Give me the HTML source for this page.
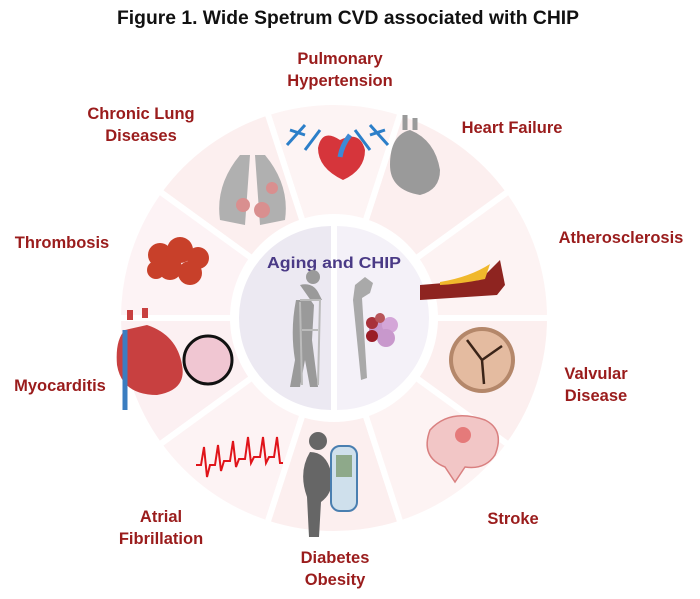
<!DOCTYPE html>
<html><head><meta charset="utf-8"><style>
html,body{margin:0;padding:0;background:#fff;width:700px;height:599px;overflow:hidden}
text{font-family:"Liberation Sans",sans-serif;font-weight:bold}
.l{fill:#9a1c1c;font-size:16.5px}
</style></head><body>
<svg width="700" height="599" viewBox="0 0 700 599" xmlns="http://www.w3.org/2000/svg">
<text x="348" y="24" text-anchor="middle" font-size="19" fill="#111" textLength="462" lengthAdjust="spacingAndGlyphs">Figure 1. Wide Spetrum CVD associated with CHIP</text>
<g id="ring"></g>
<circle cx="334" cy="318" r="104" fill="#fff"/>
<path d="M331,226 A92,92 0 0 0 331,410 Z" fill="#ece9f2"/>
<path d="M337,226 A92,92 0 0 1 337,410 Z" fill="#f4f1f8"/>
<text x="334" y="268" text-anchor="middle" font-size="16" fill="#4a3a86" textLength="134" lengthAdjust="spacingAndGlyphs">Aging and CHIP</text>
<g fill="#9a9a9a">
<circle cx="313" cy="277" r="7"/>
<path d="M300,285 Q312,282 318,292 L322,300 L296,300 Q290,330 295,360 L290,387 L300,387 L305,360 L310,387 L318,387 L312,340 L314,305 Z"/>
</g>
<g stroke="#bbb" stroke-width="2" fill="none"><path d="M300,300 L320,300 L318,385 M300,302 L302,385 M302,330 L318,330"/></g>
<path d="M355,285 l10,-8 8,6 -3,10 -8,5 5,80 -6,2 -8,-80 z" fill="#a9a9a9"/>
<g><circle cx="378" cy="330" r="9" fill="#c898cc"/><circle cx="390" cy="325" r="8" fill="#d4a6d8"/><circle cx="386" cy="338" r="9" fill="#c898cc"/><circle cx="372" cy="323" r="6" fill="#a8323a"/><circle cx="380" cy="318" r="5" fill="#b8565a"/><circle cx="372" cy="336" r="6" fill="#9a1c26"/></g>
<g>
<path d="M340,140 q-18,-12 -22,8 q0,20 25,32 q22,-10 22,-30 q-5,-20 -25,-10z" fill="#d6353b"/>
<path d="M305,125 l-18,20 M305,135 l-15,-5 M370,125 l18,20 M370,135 l15,-5 M320,130 l-15,20 M355,130 l15,20" stroke="#2c7fc9" stroke-width="3"/>
<path d="M350,135 q-8,10 -10,22" stroke="#3b8ad6" stroke-width="5" fill="none"/>
<path d="M410,130 q-20,5 -20,35 q0,25 30,30 q20,-5 20,-25 q-5,-30 -30,-40z" fill="#9a9a9a"/>
<path d="M405,130 l0,-15 M415,130 l0,-12" stroke="#9a9a9a" stroke-width="5"/>
<path d="M420,285 l60,-5 l20,-20 l5,25 l-8,10 l-77,5z" fill="#8e2420"/>
<path d="M440,282 q30,-5 50,-18 l-5,15 q-25,5 -45,6z" fill="#f0b82c"/>
<circle cx="482" cy="360" r="33" fill="#b4876a"/><circle cx="482" cy="360" r="29" fill="#e4bba0"/>
<path d="M482,360 l-15,-20 M482,360 l20,-14 M482,360 l2,24" stroke="#3b2418" stroke-width="2.5"/>
<path d="M430,430 q20,-22 55,-10 q20,10 10,35 q-10,15 -30,12 l-10,15 l-10,-15 q-25,-10 -15,-37z" fill="#f2c6c6" stroke="#d98080" stroke-width="1.5"/>
<circle cx="463" cy="435" r="8" fill="#e05a5a" opacity=".7"/>
<circle cx="318" cy="441" r="9" fill="#666"/>
<path d="M310,452 q-12,20 -3,45 l2,40 l10,0 l2,-35 q14,-10 10,-30 q-5,-20 -21,-20z" fill="#666"/>
<rect x="331" y="446" width="26" height="65" rx="9" fill="#cfe0ec" stroke="#4a7fb0" stroke-width="2"/>
<rect x="336" y="455" width="16" height="22" fill="#8ea98a"/>
<path d="M196,465 h5 l3,-18 l3,30 l3,-12 h5 l3,-20 l3,26 l3,-10 h6 l3,-20 l3,26 l3,-8 h6 l3,-22 l3,26 l3,-6 h6 l3,-20 l3,26 l3,-6 h5 l3,-20 l3,26 h3" stroke="#e0141a" stroke-width="2" fill="none"/>
<path d="M125,330 q-10,10 -8,35 q5,30 40,30 q30,-5 25,-30 q-5,-30 -35,-40z" fill="#c84040"/>
<path d="M130,320 l0,-10 M145,318 l0,-10" stroke="#c84040" stroke-width="6"/>
<path d="M125,330 l0,80" stroke="#3b7dc0" stroke-width="5"/>
<circle cx="208" cy="360" r="24" fill="#f0c6d2" stroke="#111" stroke-width="3"/>
<g fill="#c8402a"><circle cx="160" cy="255" r="12"/><circle cx="180" cy="250" r="13"/><circle cx="198" cy="258" r="11"/><circle cx="170" cy="268" r="12"/><circle cx="190" cy="273" r="12"/><circle cx="156" cy="270" r="9"/></g>
<path d="M240,155 q-25,30 -20,65 l25,5 l5,-70z M265,155 q25,30 20,65 l-25,5 l-5,-70z" fill="#b0b0b0"/>
<g fill="#d98f8f"><circle cx="243" cy="205" r="7"/><circle cx="262" cy="210" r="8"/><circle cx="272" cy="188" r="6"/></g>
</g>
<text class="l" text-anchor="middle" x="340" y="64">Pulmonary</text>
<text class="l" text-anchor="middle" x="340" y="86">Hypertension</text>
<text class="l" text-anchor="middle" x="141" y="119">Chronic Lung</text>
<text class="l" text-anchor="middle" x="141" y="141">Diseases</text>
<text class="l" text-anchor="middle" x="512" y="133">Heart Failure</text>
<text class="l" text-anchor="middle" x="62" y="248">Thrombosis</text>
<text class="l" text-anchor="middle" x="621" y="243">Atherosclerosis</text>
<text class="l" text-anchor="middle" x="60" y="391">Myocarditis</text>
<text class="l" text-anchor="middle" x="596" y="379">Valvular</text>
<text class="l" text-anchor="middle" x="596" y="401">Disease</text>
<text class="l" text-anchor="middle" x="161" y="522">Atrial</text>
<text class="l" text-anchor="middle" x="161" y="544">Fibrillation</text>
<text class="l" text-anchor="middle" x="513" y="524">Stroke</text>
<text class="l" text-anchor="middle" x="335" y="563">Diabetes</text>
<text class="l" text-anchor="middle" x="335" y="585">Obesity</text>
</svg>
<script>
(function(){
var g=document.getElementById('ring'),cx=334,cy=318,R=216,ns='http://www.w3.org/2000/svg';
var cols=['#fdf3f3','#fcefef','#fdf4f4','#fcefef','#fdf3f5','#fcf0f2','#fdf3f4','#fcefef','#fdf3f3','#fcefef'];
for(var i=0;i<10;i++){
 var a1=i*36*Math.PI/180,a2=(i+1)*36*Math.PI/180;
 var p=document.createElementNS(ns,'path');
 var x1=cx+R*Math.cos(a1),y1=cy-R*Math.sin(a1),x2=cx+R*Math.cos(a2),y2=cy-R*Math.sin(a2);
 p.setAttribute('d','M'+cx+','+cy+' L'+x1+','+y1+' A'+R+','+R+' 0 0 0 '+x2+','+y2+' Z');
 p.setAttribute('fill',cols[i]);p.setAttribute('stroke','#fff');p.setAttribute('stroke-width','6');
 g.appendChild(p);
}
})();
</script>
</body></html>
